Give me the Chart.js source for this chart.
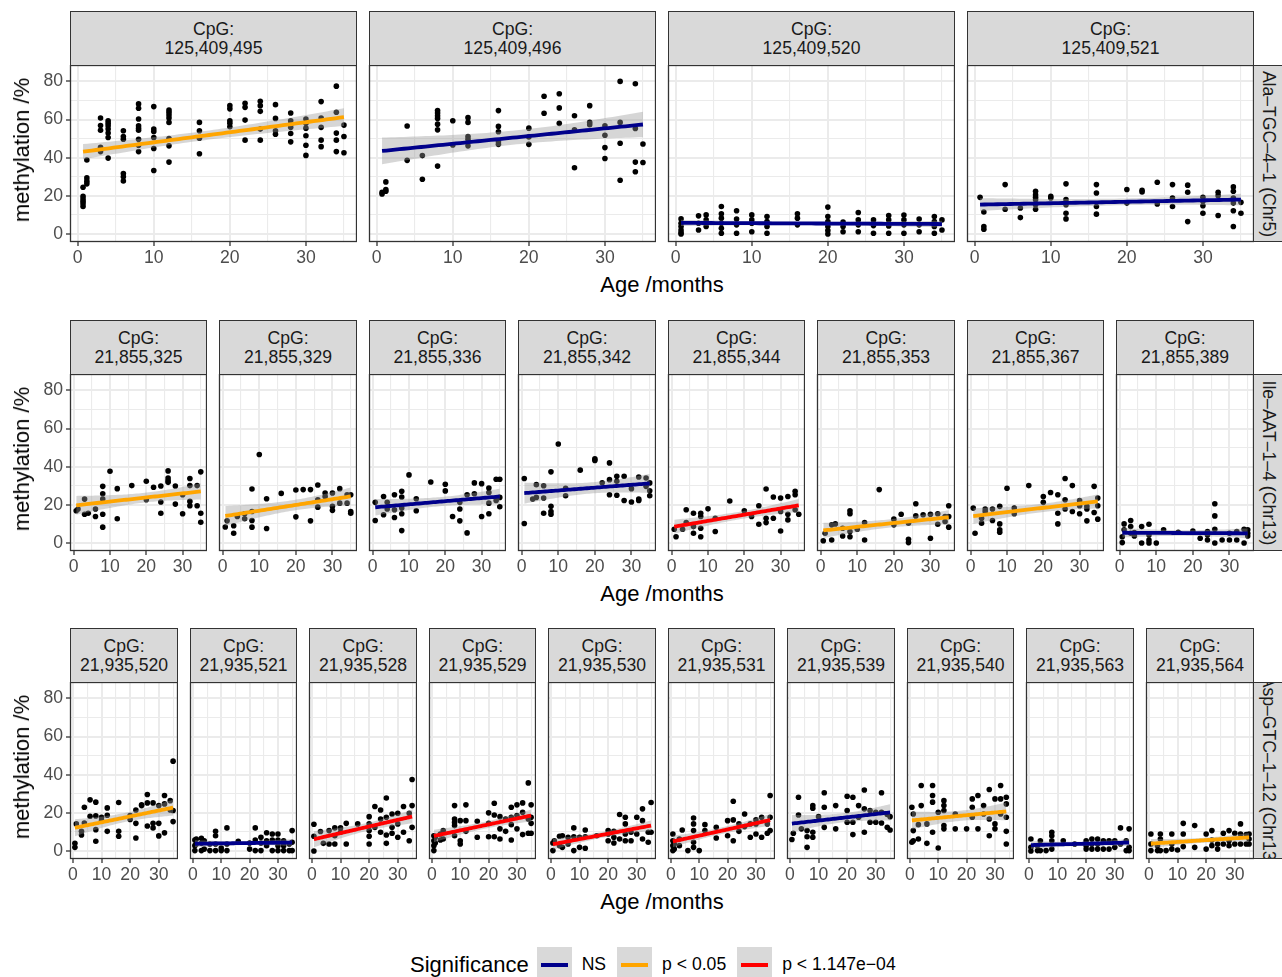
<!DOCTYPE html>
<html>
<head>
<meta charset="utf-8">
<script src="https://cdn.jsdelivr.net/npm/chart.js@4.4.0/dist/chart.umd.min.js"></script>
<style>
  body { margin: 0; width: 1282px; height: 977px; background: #fff; position: relative; overflow: hidden;
         font-family: "Liberation Sans", Arial, sans-serif; }
  canvas { position: absolute; }
  .strip { position: absolute; background: #d9d9d9; border: 1.3px solid #333; box-sizing: border-box;
           text-align: center; color: #1a1a1a; font-size: 17.6px; line-height: 19px; padding-top: 8px; }
  .rstrip { position: absolute; background: #d9d9d9; border: 1.3px solid #333; box-sizing: border-box; overflow: hidden; }
  .rstrip span { position: absolute; left: 50%; top: 50%; white-space: nowrap; font-size: 17.6px; color: #1a1a1a;
                 transform: translate(-50%, -50%) rotate(90deg); }
  .ytitle { position: absolute; white-space: nowrap; font-size: 22px; transform: translate(-50%, -50%) rotate(-90deg); }
  .xtitle { position: absolute; white-space: nowrap; font-size: 22px; transform: translateX(-50%); }
  .legend { position: absolute; top: 947px; left: 410px; height: 35px; display: flex; align-items: center; font-size: 17.6px; }
  .legend .title { font-size: 22px; margin-right: 8px; }
  .key { width: 35px; height: 35px; background: #d9d9d9; position: relative; margin-right: 10px; }
  .key i { position: absolute; left: 4px; right: 4px; top: 16px; height: 4px; }
  .lab { margin-right: 11px; }
</style>
</head>
<body>
<script>
// ages (months) at which samples were taken
const ages = [0.7, 1.2, 3, 4, 6, 8, 10, 12, 16, 20, 22, 24, 26, 28, 30, 32, 34, 35];

// methylation values (%) per age, one list per CpG
const cpg125409495 = [[24.5,19.7,18.3,17.1,15.9,14.4],[38.8,29.4,27.7,26.3],[60.8,56.9,54.4,45.5,43.2],[59.4,58.1,56.7,55,52.9,50.6,39.8],[54.1,51.1,49.7,31.7,30,27.8],[68.2,65.9,60.3,56.7,55.5,54.4,49.7,46.5,43.2],[66.8,55,53.7,50.6,44.8,33.3],[65,63.8,62.4,60.8,58.5,50,46.2,37.7],[58.5,54.1,50.2,42.1],[67.3,65.6,59.4,58.1,56.2],[68.5,66.4,59.7,49.2],[69.6,67.3,64.3,55,49.2],[67.8,60.6,54.1,52.3],[63.4,59.4,57.6,55.9,52.7,48.3],[60.3,58.1,55.5,51.5,46.5,41.2],[69.4,60.8,55.9,49.2,45.8],[77.5,63.8,52.9,49.2,43.2],[57.1,51.1,42.6]];
const cpg125409496 = [[21,21.8],[27.3,23.3,22.4],[],[56.6,38.6],[41.1,28.7],[64.7,63.4,62,60.6,57.6,54.6,35.6],[59.4,46.7],[61,58.5,51.1,49.7,46.2],[64.7,56.4,53.6,48.3,47],[55.5,50.9,47],[72.2,63.3],[73.5,66.1,58],[62,54.6,34.7],[67.3,58.5,57.3],[56.7,51.8,45.3,39.6],[80,58.5,47.6,28.2],[78.8,55.3,37.7,32.6],[47.2,37.5]];
const cpg125409520 = [[7.9,5.6,3.9,2.1,0.7,0],[],[9.5,5.6,2.1],[10,7.4,3.9],[14.4,10.6,8.3,5.6,3,0.4],[12.2,7.8,4.8,0.4],[10,7.4,5.6,1.2],[9.2,6.5,3.9,0.4],[10.6,8.3,4.8],[14.1,9.2,6.5,3.9,1.8,0],[6.2,3.9,1.2],[11.3,7.4,4.8,1.2],[7.4,4.4,0.4],[9.7,7.4,4.2,0.4],[9.9,7.4,4.8,0.4],[7.8,4.8,1.2],[9.2,6.5,3.9,0.4],[7.4,2.1]];
const cpg125409521 = [[19.2],[11.5,3.9,2.5],[],[25.9,13],[13.6,8.6],[22.4,20.6,19.2,18,15.3,13],[19.7,18.9],[26.3,18,15.3,10.9,7.9],[25.9,21.5,14.4,10.4],[23.3,16.2],[22.9,22],[27.1,15.7],[25.9,18.9,14.4],[25.6,21.9,6.5],[19.2,17.1,14.8,10.9],[21.9,20.1,9.7],[24.7,22.4,18.9,16.2,12.2,3.9],[16.6,10.9]];

const cpg21855325 = [[16.9],[17.8],[23,15.1],[15.6],[17.8,13.9],[29.7,25.8,23,15.1,8.3],[37.6],[28.5,12.7],[30.1],[32.4,22.7],[29.2],[29.9,21.5,15.6],[37.8,34.1,32.7,31.8],[29.9,20.4],[25.3,15.3],[33.8,30.1,21.8,19.5],[30.1,19.5],[37.3,15.6,10.9]];
const cpg21855329 = [[8.4],[11.6],[9,5.1],[13.9],[15.3,12.7],[28.3,16.5,11.8,8.3],[46.4],[23.2,7.6],[26],[27.8,13.7],[28],[28,11.6],[30.4,22.7,18.8],[26.2,24.4],[26.2,19.2,17.1],[28.5,20.9],[25.3,20.9],[25.3,16.5,15.6]];
const cpg21855336 = [[21.3,11.8],[],[24.4,14.8],[21.3,17.8],[25.3,17.4,13.4],[27.1,24.1,18.3,15.3,6.5],[35.7],[23.2,16.9],[32],[30.8,27.3],[13.9],[21.3,17.8,11.6],[25.3,5.3],[31.5,25.8],[31.1,13.9],[28.8,26.5,20.9,15.3],[33.4,22.3],[33.4,23.9,19]];
const cpg21855342 = [[33.8,10.2],[],[23],[30.6,23.9],[30,23.6,15.6],[37.3,19.2,16.5,15.1],[51.9],[28.7,24.8],[38.2],[44.1,43.3],[31.6],[42,33.2,25.3],[35,32.4,25],[35,22.3],[28.5,21.5],[34.6,23,22.3],[34.1,29.7],[31.5,27.4,24.8]];
const cpg21855344 = [[7.2],[3.3],[7.2],[17.4,10.7],[15.6,8.6,5.1],[15.6,13.9,7.7,3.3],[17.9],[13,6],[22],[16.9],[13.9],[19.5,9.8],[28.3,13,10.7],[24.1,13],[23.6,16.5,6.3],[24.4,15.1,12.1],[27.1,25.3,17.4],[15.1]];
const cpg21855353 = [[1.2],[5.1],[9.5,1.6],[10],[7.7,3.7],[16.9,15.3,6,3.3],[7.2],[10.7,1.6],[28],[12.5,9.5],[15.1],[10.4,1.9,0.2],[20.6,14.2],[14.8],[15.1,2.5],[15.3,9.8],[13.9,11.3],[19.5,13.9,8.3]];
const cpg21855367 = [[18.3],[5.1],[13,10.4],[17.8,16.5],[17.8,11.8],[19.2,10,6.9,5.6],[28.7],[18.3,15.3],[30.1],[24.4,21.3],[26.5],[25.3,15.6,10],[33.8,22.7,17.8],[30.1,16.5],[22.2,19.5,15.3],[19.2,17.8,11.6],[29.7,16],[23.6,19.5,12.5]];
const cpg21855389 = [[3.3,0.2],[10,6.9],[11.8,8.6,5.1],[5.5,3.7],[8.6,0],[9.8,4.2,1.6,0],[0],[6.9],[5.6],[6.3],[2.5],[6,4.2,1.6],[20.6,14.2,7.2,0],[1.6],[5.1,1.6],[6,1.6],[7.2,0],[6.9,5.1,3.7]];

const cpg21935520 = [[4,1.9],[14.2],[8.4,10.3],[14.7,22.9],[26.8,18.2],[25.6,18.4,11.2,5.1],[17.7,15.9],[22.6,18.7,10.3],[25.4,10.3,7.7],[18.6,16.5],[21.5,14.5,6.8],[24.2,23.8],[29.6,25.2,13.1],[25.2,14.5,12.1],[23.8,14.5,7.9],[29.1,24.7,9.5],[26.4,21.5],[47.1,21.2,15.4]];
const cpg21935521 = [[5.8,2.8,0.2],[6.3,3.7],[6.7,4,0.2],[5.4,1],[3.7,0.2],[10.3,8,3.7,0.2],[1.6,0.2],[12.1,3.7,0.2],[5.1],[4.2,1],[12.1,5.8,0.2],[7.2,4.2,0.2],[9.6,5.4,2.8],[8.9,5.8,0.2],[8.9,5.8,2.8,0.2],[5.4,2.8,0.2],[3.7,0.2],[10.7,4.6,0.2]];
const cpg21935528 = [[14,7.7,0],[],[10.2],[4],[10.7,3.7],[12.1,8,3.7],[12.1,9.8],[14.5,3.7],[14.2],[18,14.2,10.7,7.7,3.7],[23.3,12.4],[21.5,16.8,9.8],[27.8,17.7,8.4,4],[19.4,12.4,9.3],[19.8,14.2,7.2],[23.3,9.8],[19.8,5.4],[37.5,23.8,12.4]];
const cpg21935529 = [[0.2,2.8,5.4,8],[7.2,4.2],[8.9,5.8],[10.7,6.3],[],[23.8,16.8,15,13.3,8],[15.9,5.4,3.7],[24.2,15.9,10.3],[15.6,7.2],[20,14.5,7.5],[25,18.9,7.5],[18,11.6,6.3],[16.8,10.3],[22.9,17.7,13.8,5.8],[24.2,18.6,11.6],[25.2,20.3,8.6],[35.7,16.8,9.3],[24.2,17.7,14.5,9.3]];
const cpg21935530 = [[4.2,0.2],[5.4],[7.7,2.8],[8,1.9],[7.2,3.7],[12.1,7.5,0.2],[7.2,1.9],[11,7.5,1.4],[8],[10.7,8.9,5.4],[10.3,7.2,4.2],[19.1,6.3],[17.7,14.2,8.9,5.4],[9.8,5.4],[17.7,8.9],[22.1,15.9,6.3],[9.8,4.6],[25.4,9.8]];
const cpg21935531 = [[8.9,5.4,2.8,0.2],[3.7,1],[6.3,2.8],[11],[0.2],[17.3,14.2,10.7,4.6,1.9],[0.2],[13.8,10.7],[12.4,6.8],[15.9,8],[26.1,16.3,5.4],[14.2,10.3],[19.4,12.8],[14.2,7.2],[16.3,14.2,8.9],[17.7,7.2],[14.2,9.3],[29.1,17.7,10.7]];
const cpg21935539 = [[6],[9.3],[28.2,18.9],[11.6],[10.7,7.5,1.9],[23.8,22.4,9.8,7.2],[18],[30.5,22.9,12.4],[23.8,11.6],[28.7,21.2,15.1],[28.2,15.1,8.6],[23.8,17.7],[32,22.1,9.8],[21.2,15.1],[20.3,15.1],[30.5,20.3,14.7],[19.1,12.4],[18,11]];
const cpg21935540 = [[22.9,4.6],[19.4,10.7,5.4],[13.8,6.3],[34.3,23.8],[14.2,4],[34.3,29.1,25.6,9.8],[20.3,1.6],[26.4,23.8,21.2,13.3,11.6],[19.4,11.6],[11.6],[27.3,22.9,17.7],[29.1,11.6],[23.8,19.4],[32.2,16.8,8],[27.3,14.2,11.6],[34.3,27.3,19.4],[28.2,24.7,17.7,10.3,3.7],[]];
const cpg21935563 = [[6.3,1.9,0],[],[2.8,0.2],[5.4,0.2],[0.2],[9.8,8,5.4,1],[],[5.4],[3.7],[5.4,2.8,1],[6.3,3.7,1],[6.3,3.7,1],[5.4,1],[5.4,1],[5.4,1.9],[12.1,3.7],[5.4,0.2],[11.6,1.9,0.2]];
const cpg21935564 = [[8.9,3.7,0.2],[],[2.8,0.2],[8.9,6.3,0.2],[0.2],[8.9,3.7,1],[0.5],[14.5,8.9,2.3],[13.3,1.9],[8.9,1],[10.7,5.8,2.8],[3.7,1],[9.3,3.7],[10.7,5.4,2.8],[9.3,3.7],[14.2,8.9,3.7],[8.6,3.7],[8.9,6.3,3.7]];

// facet labels and significance class per CpG
const row1Names = ["125,409,495", "125,409,496", "125,409,520", "125,409,521"];
const row2Names = ["21,855,325", "21,855,329", "21,855,336", "21,855,342", "21,855,344", "21,855,353", "21,855,367", "21,855,389"];
const row3Names = ["21,935,520", "21,935,521", "21,935,528", "21,935,529", "21,935,530", "21,935,531", "21,935,539", "21,935,540", "21,935,563", "21,935,564"];
const row1Sig = ["p05", "NS", "NS", "NS"];
const row2Sig = ["p05", "p05", "NS", "NS", "p4", "p05", "p05", "NS"];
const row3Sig = ["p05", "NS", "p4", "p4", "p4", "p4", "NS", "p05", "NS", "p05"];
const rowLabels = ["Ala\u2013TGC\u20134\u20131 (Chr5)", "Ile\u2013AAT\u20131\u20134 (Chr13)", "Asp\u2013GTC\u20131\u201312 (Chr13)"];
const sigLabels = ["NS", "p < 0.05", "p < 1.147e\u221204"];

const xTicks = [0, 5, 10, 15, 20, 25, 30, 35];
const yTicks = [0, 10, 20, 30, 40, 50, 60, 70, 80];

const sigColor = { NS: "#00008b", p05: "#ffa500", p4: "#ff0000" };

const rows = [
  { top: 65, names: row1Names, sig: row1Sig, vals: [cpg125409495, cpg125409496, cpg125409520, cpg125409521] },
  { top: 374, names: row2Names, sig: row2Sig, vals: [cpg21855325, cpg21855329, cpg21855336, cpg21855342, cpg21855344, cpg21855353, cpg21855367, cpg21855389] },
  { top: 682, names: row3Names, sig: row3Sig, vals: [cpg21935520, cpg21935521, cpg21935528, cpg21935529, cpg21935530, cpg21935531, cpg21935539, cpg21935540, cpg21935563, cpg21935564] },
];

const PH = 177;
const X0 = 70, X1 = 1253.5, GAP = 12;
const xMin = ages[0] - 0.05 * (ages[ages.length - 1] - ages[0]);
const xMax = ages[ages.length - 1] + 0.05 * (ages[ages.length - 1] - ages[0]);
const yMin = -4.2, yMax = 88.6;

function toPoints(vals) {
  let pts = [];
  vals.forEach((list, i) => list.forEach((v) => pts.push({ x: ages[i], y: v })));
  return pts;
}

// linear model fit + 95% confidence band, like geom_smooth(method = "lm")
function lmFit(pts) {
  const n = pts.length;
  const mx = pts.reduce((s, p) => s + p.x, 0) / n;
  const my = pts.reduce((s, p) => s + p.y, 0) / n;
  let sxx = 0, sxy = 0;
  pts.forEach((p) => { sxx += (p.x - mx) ** 2; sxy += (p.x - mx) * (p.y - my); });
  const b = sxy / sxx, a = my - b * mx;
  let sse = 0;
  pts.forEach((p) => { const r = p.y - (a + b * p.x); sse += r * r; });
  const s = Math.sqrt(sse / (n - 2));
  const t = 1.96 + 2.4 / (n - 2);
  const lo = Math.min(...pts.map((p) => p.x)), hi = Math.max(...pts.map((p) => p.x));
  let line = [], low = [], up = [];
  for (let i = 0; i <= 60; i++) {
    const x = lo + (hi - lo) * i / 60;
    const y = a + b * x;
    const se = s * Math.sqrt(1 / n + (x - mx) ** 2 / sxx);
    line.push({ x, y });
    low.push({ x, y: y - t * se });
    up.push({ x, y: y + t * se });
  }
  return { line, low, up };
}

const panelBorder = {
  id: "panelBorder",
  afterDraw(chart) {
    const a = chart.chartArea, ctx = chart.ctx;
    ctx.save();
    ctx.strokeStyle = "#333";
    ctx.lineWidth = 1.3;
    ctx.strokeRect(a.left + 0.5, a.top + 0.5, a.right - a.left - 1, a.bottom - a.top - 1);
    ctx.restore();
  },
};

// keep the plot area exactly where the canvas says
function noPad(s) {
  s.paddingTop = 0; s.paddingBottom = 0; s.paddingLeft = 0; s.paddingRight = 0;
}

function addDiv(cls, css, html) {
  const d = document.createElement("div");
  d.className = cls;
  Object.assign(d.style, css);
  d.innerHTML = html;
  document.body.appendChild(d);
  return d;
}

function makePanel(L, R, T, vals, sig, first) {
  // room left of the plot: y labels on the first panel, overhang of the "0" label on the others
  const extraL = first ? 40 : 8;
  const cv = document.createElement("canvas");
  cv.width = R - L + extraL;
  cv.height = PH + 24;
  cv.style.left = (L - extraL) + "px";
  cv.style.top = T + "px";
  document.body.appendChild(cv);

  const pts = toPoints(vals);
  const fit = lmFit(pts);
  const col = sigColor[sig];

  new Chart(cv, {
    type: "scatter",
    data: {
      datasets: [
        { data: fit.low, showLine: true, borderWidth: 0, pointRadius: 0, fill: false, order: 3 },
        { data: fit.up, showLine: true, borderWidth: 0, pointRadius: 0, fill: 0, backgroundColor: "rgba(153,153,153,0.4)", order: 2 },
        { data: fit.line, showLine: true, borderColor: col, borderWidth: 3.8, pointRadius: 0, order: 1 },
        { data: pts, pointRadius: 2.8, pointBackgroundColor: "#000", pointBorderWidth: 0, order: 4 },
      ],
    },
    options: {
      responsive: false,
      animation: false,
      devicePixelRatio: 1,
      layout: { padding: 0, autoPadding: false },
      plugins: { legend: { display: false }, tooltip: { enabled: false } },
      scales: {
        x: {
          type: "linear", min: xMin, max: xMax,
          afterBuildTicks: (s) => { s.ticks = xTicks.map((v) => ({ value: v })); },
          afterFit: (s) => { s.height = 24; noPad(s); },
          border: { display: false },
          grid: {
            color: "#ebebeb",
            lineWidth: (c) => (c.tick && c.tick.value % 10 === 0 ? 2 : 1.1),
            tickColor: (c) => (c.tick && c.tick.value % 10 === 0 ? "#333" : "rgba(0,0,0,0)"),
            tickLength: 4, tickWidth: 1.3,
          },
          ticks: {
            autoSkip: false, maxRotation: 0, padding: 2, color: "#4d4d4d",
            font: { family: "Liberation Sans", size: 17.6 },
            callback: (v) => (v % 10 === 0 ? v : ""),
          },
        },
        y: {
          type: "linear", min: yMin, max: yMax,
          afterBuildTicks: (s) => { s.ticks = yTicks.map((v) => ({ value: v })); },
          afterFit: (s) => { s.width = extraL; noPad(s); },
          border: { display: false },
          grid: {
            color: "#ebebeb",
            lineWidth: (c) => (c.tick && c.tick.value % 20 === 0 ? 2 : 1.1),
            tickColor: (c) => (c.tick && c.tick.value % 20 === 0 ? "#333" : "rgba(0,0,0,0)"),
            drawTicks: first, tickLength: 4, tickWidth: 1.3,
          },
          ticks: {
            display: first, autoSkip: false, padding: 3, color: "#4d4d4d",
            font: { family: "Liberation Sans", size: 17.6 },
            callback: (v) => (v % 20 === 0 ? v : ""),
          },
        },
      },
    },
    plugins: [panelBorder],
  });
}

rows.forEach((row, r) => {
  const n = row.names.length;
  const w = (X1 - X0 - GAP * (n - 1)) / n;
  const T = row.top;
  row.names.forEach((name, i) => {
    const L = Math.round(X0 + i * (w + GAP));
    const R = Math.round(X0 + i * (w + GAP) + w);
    addDiv("strip", { left: L + "px", top: (T - 54) + "px", width: (R - L) + "px", height: "55px" }, "CpG:<br>" + name);
    makePanel(L, R, T, row.vals[i], row.sig[i], i === 0);
  });
  addDiv("rstrip", { left: "1253px", top: T + "px", width: "30px", height: PH + "px" }, "<span>" + rowLabels[r] + "</span>");
  addDiv("ytitle", { left: "22px", top: (T + PH / 2 - 4) + "px" }, "methylation /%");
  addDiv("xtitle", { left: "662px", top: (T + PH + 30) + "px" }, "Age /months");
});

// legend
const leg = addDiv("legend", {}, '<span class="title">Significance</span>');
["NS", "p05", "p4"].forEach((k, i) => {
  leg.innerHTML += '<span class="key"><i style="background:' + sigColor[k] + '"></i></span><span class="lab">' + sigLabels[i] + "</span>";
});
</script>
</body>
</html>
